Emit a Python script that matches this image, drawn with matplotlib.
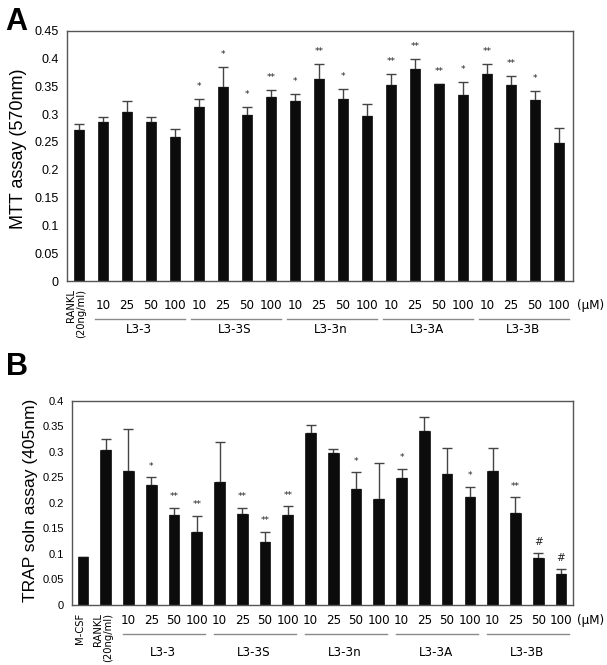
import matplotlib
matplotlib.use('Agg')
import matplotlib.pyplot as plt
from matplotlib import font_manager
from matplotlib.font_manager import FontProperties
from matplotlib.transforms import offset_copy
import numpy as np

# ---------------- data ----------------
conc_labels = ['10', '25', '50', '100']
groups = ['L3-3', 'L3-3S', 'L3-3n', 'L3-3A', 'L3-3B']
unit_label = '(\u03bcM)'

# Panel A : MTT assay
a_controls = ['RANKL\n(20ng/ml)']
a_means = [0.272,
           0.286, 0.304, 0.286, 0.258,
           0.312, 0.349, 0.299, 0.331,
           0.324, 0.363, 0.328, 0.296,
           0.352, 0.382, 0.355, 0.334,
           0.372, 0.352, 0.325, 0.249]
a_err_top = [0.282,
             0.294, 0.324, 0.294, 0.273,
             0.328, 0.385, 0.312, 0.344,
             0.336, 0.390, 0.346, 0.318,
             0.372, 0.400, 0.355, 0.358,
             0.390, 0.368, 0.342, 0.275]
a_marks = ['',
           '', '', '', '',
           '*', '*', '*', '**',
           '*', '**', '*', '',
           '**', '**', '**', '*',
           '**', '**', '*', '']
a_yticks = [0, 0.05, 0.1, 0.15, 0.2, 0.25, 0.3, 0.35, 0.4, 0.45]
a_yticklabels = ['0', '0.05', '0.1', '0.15', '0.2', '0.25', '0.3', '0.35', '0.4', '0.45']
a_ylabel = 'MTT assay (570nm)'

# Panel B : TRAP solution assay
b_controls = ['M-CSF', 'RANKL\n(20ng/ml)']
b_means = [0.094, 0.303,
           0.262, 0.236, 0.177, 0.142,
           0.241, 0.179, 0.123, 0.177,
           0.337, 0.298, 0.227, 0.207,
           0.249, 0.341, 0.257, 0.211,
           0.262, 0.181, 0.091, 0.060]
b_err_top = [0.094, 0.325,
             0.345, 0.250, 0.190, 0.175,
             0.319, 0.190, 0.143, 0.193,
             0.352, 0.305, 0.260, 0.279,
             0.267, 0.369, 0.308, 0.232,
             0.308, 0.211, 0.102, 0.071]
b_marks = ['', '',
           '', '*', '**', '**',
           '', '**', '**', '**',
           '', '', '*', '',
           '*', '', '', '*',
           '', '**', '#', '#']
b_yticks = [0, 0.05, 0.1, 0.15, 0.2, 0.25, 0.3, 0.35, 0.4]
b_yticklabels = ['0', '0.05', '0.1', '0.15', '0.2', '0.25', '0.3', '0.35', '0.4']
b_ylabel = 'TRAP soln assay (405nm)'

# ---------------- fonts ----------------
flist = font_manager.fontManager.ttflist
REG = ['Liberation Sans', 'DejaVu Sans']
plt.rcParams['font.family'] = REG

_narrow_path = None
for f in flist:
    if f.name == 'Liberation Sans Narrow' and 'Bold' not in f.fname and 'Italic' not in f.fname:
        _narrow_path = f.fname
        break
if _narrow_path is None:
    for f in flist:
        fn = f.fname
        if f.name == 'DejaVu Sans' and 'Condensed' in fn and 'Bold' not in fn and 'Oblique' not in fn:
            _narrow_path = fn
            break


def narrow(size):
    if _narrow_path:
        return dict(fontproperties=FontProperties(fname=_narrow_path, size=size))
    return dict(fontproperties=FontProperties(family=REG, size=size * 0.9))


def regular(size, weight='normal'):
    return FontProperties(family=REG, size=size, weight=weight)


BAR = '#0c0c0c'
EDGE = '#555555'
ERR = '#444444'
LINE = '#8a8a8a'

fig = plt.figure(figsize=(6.07, 6.65), dpi=100)


def draw_panel(ax, controls, means, tops, marks, yticks, yticklabels, ylabel,
               ylim, xleft, xright, width, tick_fs, ylabel_fs, ylabel_xy, mark_off,
               num_off, line_off, grp_off, ctrl_fs, line_lo, line_hi, num_fs):
    n = len(means)
    x = np.arange(n)
    means = np.asarray(means)
    tops = np.asarray(tops)
    ax.bar(x, means, width=width, color=BAR, edgecolor=BAR, linewidth=0.5, zorder=2)
    yerr = np.vstack([np.zeros(n), tops - means])
    ax.errorbar(x, means, yerr=yerr, fmt='none', ecolor=ERR, elinewidth=1.0,
                capsize=3.6, capthick=1.0, zorder=1)
    for xi, t, m in zip(x, tops, marks):
        if m:
            ax.annotate(m, xy=(xi, t), xytext=(0, mark_off), textcoords='offset points',
                        ha='center', va='center',
                        fontproperties=FontProperties(family=['DejaVu Sans'],
                                                      size=6.5 if m != '#' else 7.5),
                        color='#222222')
    ax.set_xlim(xleft, xright)
    ax.set_ylim(*ylim)
    ax.set_yticks(yticks)
    ax.set_yticklabels(yticklabels, fontproperties=regular(tick_fs))
    ax.tick_params(axis='y', length=0, pad=6)
    ax.set_xticks([])
    for s in ax.spines.values():
        s.set_color(EDGE)
        s.set_linewidth(1.0)
    ax.set_ylabel(ylabel, fontproperties=regular(ylabel_fs))
    ax.yaxis.set_label_coords(*ylabel_xy)

    nc = len(controls)
    for i, lab in enumerate(controls):
        ax.annotate(lab, xy=(i, 0), xycoords=('data', 'axes fraction'),
                    xytext=(-2, -6), textcoords='offset points', rotation=90,
                    ha='center', va='top', multialignment='right',
                    linespacing=1.0, **narrow(ctrl_fs))
    trans = ax.get_xaxis_transform()
    tl = offset_copy(trans, fig=fig, x=0, y=line_off, units='points')
    for g, gname in enumerate(groups):
        start = nc + 4 * g
        for k, cl in enumerate(conc_labels):
            ax.annotate(cl, xy=(start + k, 0), xycoords=('data', 'axes fraction'),
                        xytext=(0, num_off), textcoords='offset points',
                        ha='center', va='center', **narrow(num_fs))
        ax.plot([start - line_lo, start + 3 + line_hi], [0, 0], transform=tl,
                color=LINE, lw=1.0, clip_on=False)
        ax.annotate(gname, xy=(start + 1.5, 0), xycoords=('data', 'axes fraction'),
                    xytext=(0, grp_off), textcoords='offset points',
                    ha='center', va='center', **narrow(num_fs))
    ax.annotate(unit_label, xy=(1.0, 0), xycoords='axes fraction',
                xytext=(3, num_off), textcoords='offset points',
                ha='left', va='center', **narrow(num_fs))


axA = fig.add_axes([67 / 607, 1 - 281 / 665, (573 - 67) / 607, (281 - 30.7) / 665])
draw_panel(axA, a_controls, a_means, a_err_top, a_marks, a_yticks, a_yticklabels,
           a_ylabel, (0, 0.45), -0.5, 20.58, 0.42, 9, 13, (-0.079, 0.53), 9,
           -17.5, -27, -35, 8, 0.35, 0.4, 9.5)

axB = fig.add_axes([72 / 607, 1 - 604.8 / 665, (573 - 72) / 607, (604.8 - 401) / 665])
draw_panel(axB, b_controls, b_means, b_err_top, b_marks, b_yticks, b_yticklabels,
           b_ylabel, (0, 0.4), -0.48, 21.53, 0.47, 8, 12.5, (-0.068, 0.514), 8,
           -11, -21, -34, 8, 0.25, 0.35, 9.5)

fig.text(5 / 607, 1 - 30 / 665, 'A', fontproperties=regular(22, 'bold'), ha='left', va='baseline')
fig.text(6 / 607, 1 - 375 / 665, 'B', fontproperties=regular(22, 'bold'), ha='left', va='baseline')

fig.savefig('out.png', dpi=100)
